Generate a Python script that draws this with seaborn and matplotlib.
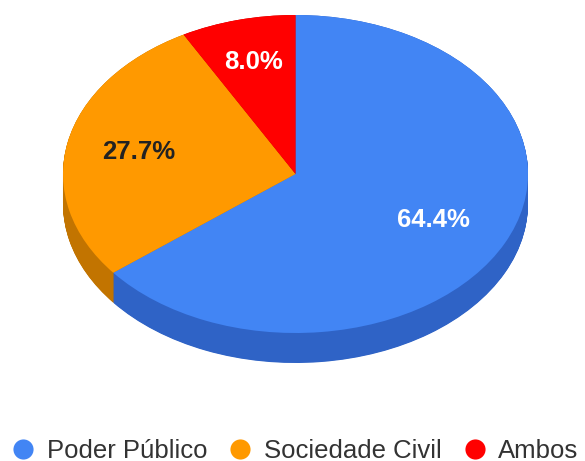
import matplotlib
matplotlib.use("Agg")
import matplotlib.pyplot as plt
from matplotlib.lines import Line2D
import seaborn as sns
import numpy as np

# Shares of responsibility
categories = ["Poder Público", "Sociedade Civil", "Ambos"]
shares = [64.4, 27.7, 8.0]

top_colors = sns.color_palette(["#4285F4", "#FF9900", "#FF0000"])
side_colors = sns.color_palette(["#2F63C6", "#C27400", "#C00000"])
label_colors = ["white", "#222222", "white"]
label_radius = [0.66, 0.69, 0.725]

sns.set_theme(style="white")
plt.rcParams["font.family"] = ["Liberation Sans", "DejaVu Sans"]

W, H = 585, 461
fig = plt.figure(figsize=(W / 100, H / 100), dpi=100)
ax = fig.add_axes([0, 0, 1, 1])

# ellipse geometry of the tilted disc (pixels)
cx, cy = 295.5, 174.0
rx, ry = 232.5, 159.0
depth_px = 30.0
depth = depth_px / ry

# side wall: stacked, darker copies of the disc from the bottom up
for d in np.linspace(depth, 0.0, 60):
    ax.pie(shares, colors=side_colors, startangle=90, counterclock=False,
           center=(0, -d), radius=1.0,
           wedgeprops=dict(linewidth=0, antialiased=True))

# top face, labelled with the stated shares
share_iter = iter(shares)
pct_base = 0.69
wedges, texts, autotexts = ax.pie(
    shares, colors=top_colors, startangle=90, counterclock=False,
    center=(0, 0), radius=1.0,
    autopct=lambda p: f"{next(share_iter):.1f}%", pctdistance=pct_base,
    wedgeprops=dict(linewidth=0),
    textprops=dict(fontsize=18.5, fontweight="bold"))
for t, c, r in zip(autotexts, label_colors, label_radius):
    t.set_color(c)
    x, y = t.get_position()
    t.set_position((x * r / pct_base, y * r / pct_base))

ax.set_aspect("auto")
ax.set_xlim(-cx / rx, (W - cx) / rx)
ax.set_ylim(-(H - cy) / ry, cy / ry)
ax.axis("off")

handles = [Line2D([], [], marker="o", linestyle="", markersize=14.5,
                  markerfacecolor=c, markeredgewidth=0) for c in top_colors]
fig.legend(handles, categories, loc="center",
           bbox_to_anchor=(0.5055, 1 - 450.5 / H), ncol=3, frameon=False,
           fontsize=18.5, handlelength=0.8, handletextpad=0.51,
           columnspacing=0.9, labelcolor="#333333",
           borderpad=0, borderaxespad=0)

fig.savefig("out.png", dpi=100, facecolor="white")
